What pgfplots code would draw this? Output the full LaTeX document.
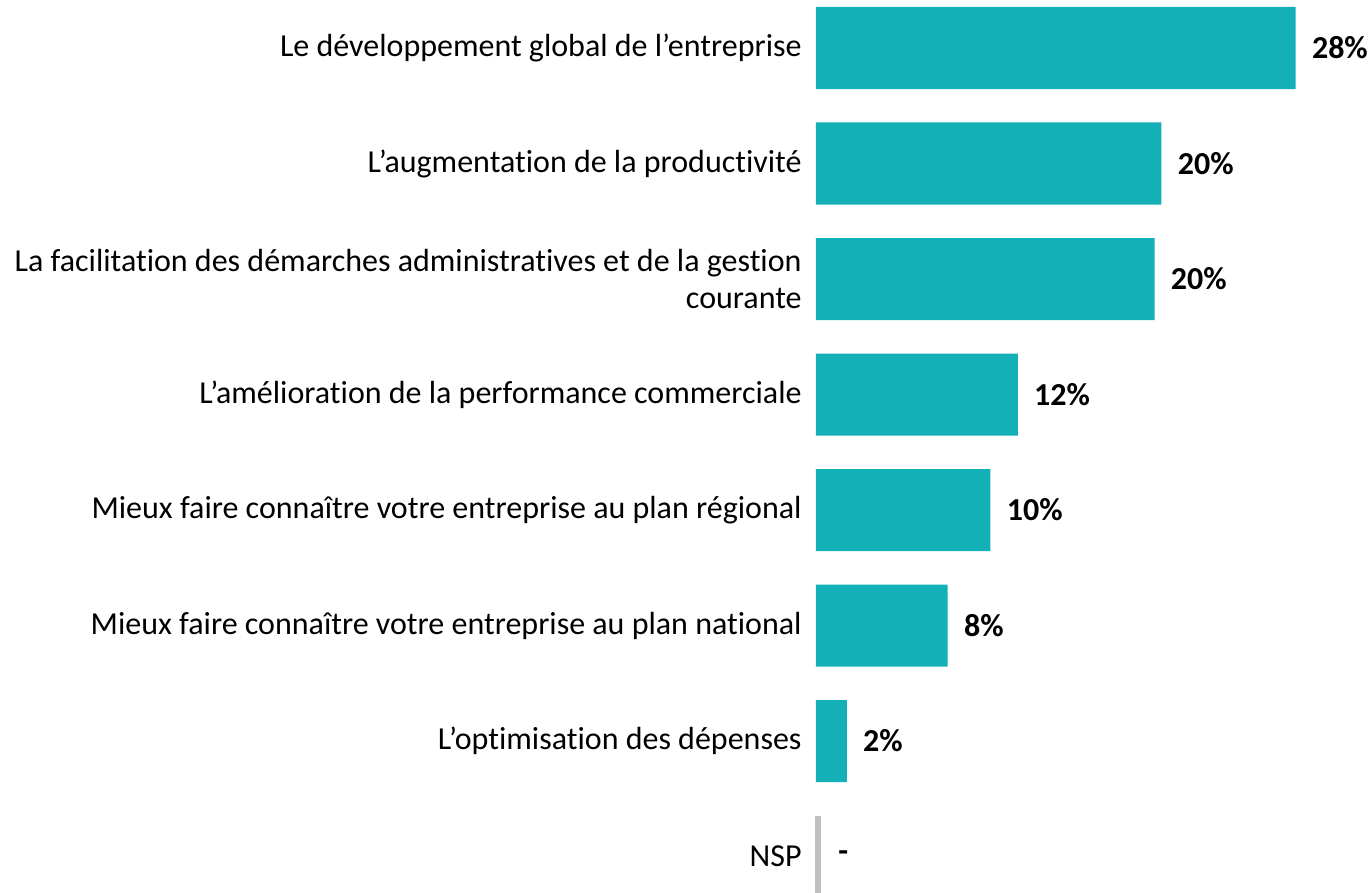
\documentclass[border=0pt]{standalone}
\usepackage{fontspec}
\setmainfont{Carlito}[Ligatures=NoCommon]
\usepackage{pgfplots}
\pgfplotsset{compat=1.18}
\definecolor{teal1}{HTML}{14B0B7}
\definecolor{axgray}{HTML}{C0C0C0}
\begin{document}
\begin{tikzpicture}
\begin{axis}[name=ax, scale only axis, width=256.5pt, height=446.5pt,
  xbar, bar width=0.71,
  xmin=0, xmax=30, ymin=-0.4156, ymax=7.316, y dir=reverse,
  axis line style={draw=none}, major tick length=0pt,
  xtick=\empty, ytick={0,...,7},
  yticklabels={Le développement global de l’entreprise,
    L’augmentation de la productivité,
    {La facilitation des démarches administratives et de la gestion\\courante},
    L’amélioration de la performance commerciale,
    Mieux faire connaître votre entreprise au plan régional,
    Mieux faire connaître votre entreprise au plan national,
    L’optimisation des dépenses,
    NSP},
  yticklabel style={align=right, inner sep=0pt, xshift=-7pt, font=\fontsize{16}{18.5}\selectfont},
  point meta=explicit symbolic,
  nodes near coords,
  nodes near coords style={font=\fontsize{16}{18.5}\selectfont\bfseries, anchor=west, inner sep=0pt, xshift=8pt},
  clip=false]
\addplot[fill=teal1, draw=none] coordinates {
  (28.05,0) [28\%]
  (20.2,1) [20\%]
  (19.8,2) [20\%]
  (11.8,3) [12\%]
  (10.2,4) [10\%]
  (7.7,5) [8\%]
  (1.8,6) [2\%]
  (0,7) [\hspace{3pt}-]
};
\addplot[axgray, line width=3pt, sharp plot, forget plot, nodes near coords=] coordinates {(0.1,6.65) (0.1,7.316)};
\end{axis}
\pgfresetboundingbox
\path ([xshift=-408pt]ax.south west) rectangle ([xshift=20.5pt]ax.north east);
\end{tikzpicture}
\end{document}
